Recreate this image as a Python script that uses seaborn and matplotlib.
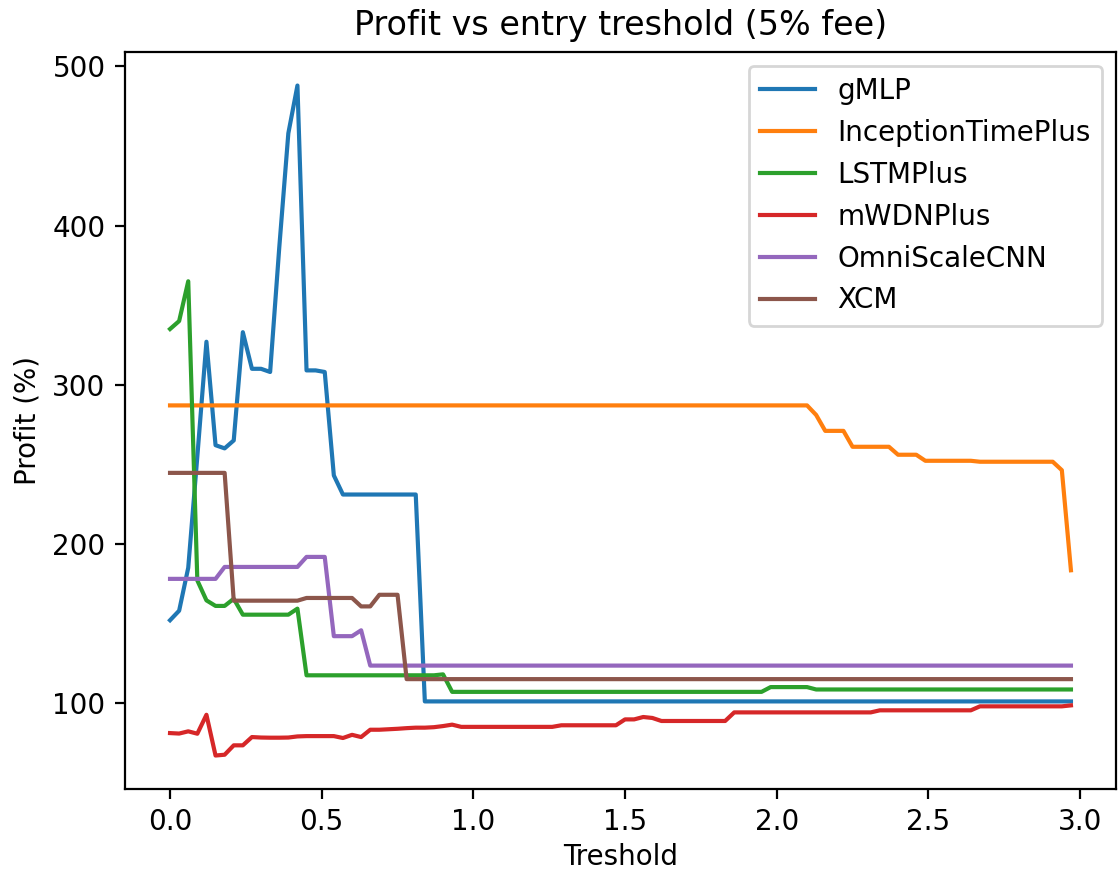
import numpy as np
import pandas as pd
import matplotlib
matplotlib.use("Agg")
import matplotlib.pyplot as plt
import seaborn as sns

# threshold grid, 0.00 .. 2.97
treshold = np.round(np.arange(100) * 0.03, 2)

gmlp = [
    152, 158, 185, 255, 327, 262, 260, 265, 333, 310,
    310, 308, 386, 458, 488, 309, 309, 308, 243, 231,
    231, 231, 231, 231, 231, 231, 231, 231, 101, 101,
    101, 101, 101, 101, 101, 101, 101, 101, 101, 101,
    101, 101, 101, 101, 101, 101, 101, 101, 101, 101,
    101, 101, 101, 101, 101, 101, 101, 101, 101, 101,
    101, 101, 101, 101, 101, 101, 101, 101, 101, 101,
    101, 101, 101, 101, 101, 101, 101, 101, 101, 101,
    101, 101, 101, 101, 101, 101, 101, 101, 101, 101,
    101, 101, 101, 101, 101, 101, 101, 101, 101, 101,
]

inception = [
    287, 287, 287, 287, 287, 287, 287, 287, 287, 287,
    287, 287, 287, 287, 287, 287, 287, 287, 287, 287,
    287, 287, 287, 287, 287, 287, 287, 287, 287, 287,
    287, 287, 287, 287, 287, 287, 287, 287, 287, 287,
    287, 287, 287, 287, 287, 287, 287, 287, 287, 287,
    287, 287, 287, 287, 287, 287, 287, 287, 287, 287,
    287, 287, 287, 287, 287, 287, 287, 287, 287, 287,
    287, 281, 271, 271, 271, 261, 261, 261, 261, 261,
    256, 256, 256, 252.2, 252.2, 252.2, 252.2, 252.2, 252.2, 251.6,
    251.6, 251.6, 251.6, 251.6, 251.6, 251.6, 251.6, 251.6, 246.3, 183.4,
]

lstm = [
    335, 340, 365, 177, 164.5, 161, 161, 165.5, 155.5, 155.5,
    155.5, 155.5, 155.5, 155.5, 159.3, 117.4, 117.4, 117.4, 117.4, 117.4,
    117.4, 117.4, 117.4, 117.4, 117.4, 117.4, 117.4, 117.4, 117.4, 117.4,
    118, 107, 107, 107, 107, 107, 107, 107, 107, 107,
    107, 107, 107, 107, 107, 107, 107, 107, 107, 107,
    107, 107, 107, 107, 107, 107, 107, 107, 107, 107,
    107, 107, 107, 107, 107, 107, 110, 110, 110, 110,
    110, 108.5, 108.5, 108.5, 108.5, 108.5, 108.5, 108.5, 108.5, 108.5,
    108.5, 108.5, 108.5, 108.5, 108.5, 108.5, 108.5, 108.5, 108.5, 108.5,
    108.5, 108.5, 108.5, 108.5, 108.5, 108.5, 108.5, 108.5, 108.5, 108.5,
]

mwdn = [
    81.1, 80.8, 82.2, 80.7, 92.6, 67, 67.5, 73.4, 73.4, 78.6,
    78.3, 78.2, 78.2, 78.3, 79, 79.2, 79.2, 79.2, 79.2, 78,
    80, 78.6, 83.2, 83.2, 83.5, 83.8, 84.2, 84.5, 84.5, 84.8,
    85.5, 86.4, 85, 85, 85, 85, 85, 85, 85, 85,
    85, 85, 85, 86, 86, 86, 86, 86, 86, 86,
    89.7, 89.7, 91.2, 90.6, 88.7, 88.7, 88.7, 88.7, 88.7, 88.7,
    88.7, 88.7, 94.1, 94.1, 94.1, 94.1, 94.1, 94.1, 94.1, 94.1,
    94.1, 94.1, 94.1, 94.1, 94.1, 94.1, 94.1, 94.1, 95.4, 95.4,
    95.4, 95.4, 95.4, 95.4, 95.4, 95.4, 95.4, 95.4, 95.4, 97.9,
    97.9, 97.9, 97.9, 97.9, 97.9, 97.9, 97.9, 97.9, 97.9, 98.5,
]

omniscale = [
    178, 178, 178, 178, 178, 178, 185.5, 185.5, 185.5, 185.5,
    185.5, 185.5, 185.5, 185.5, 185.5, 191.8, 191.8, 191.8, 142, 142,
    142, 145.7, 123.5, 123.5, 123.5, 123.5, 123.5, 123.5, 123.5, 123.5,
    123.5, 123.5, 123.5, 123.5, 123.5, 123.5, 123.5, 123.5, 123.5, 123.5,
    123.5, 123.5, 123.5, 123.5, 123.5, 123.5, 123.5, 123.5, 123.5, 123.5,
    123.5, 123.5, 123.5, 123.5, 123.5, 123.5, 123.5, 123.5, 123.5, 123.5,
    123.5, 123.5, 123.5, 123.5, 123.5, 123.5, 123.5, 123.5, 123.5, 123.5,
    123.5, 123.5, 123.5, 123.5, 123.5, 123.5, 123.5, 123.5, 123.5, 123.5,
    123.5, 123.5, 123.5, 123.5, 123.5, 123.5, 123.5, 123.5, 123.5, 123.5,
    123.5, 123.5, 123.5, 123.5, 123.5, 123.5, 123.5, 123.5, 123.5, 123.5,
]

xcm = [
    244.6, 244.6, 244.6, 244.6, 244.6, 244.6, 244.6, 164.3, 164.3, 164.3,
    164.3, 164.3, 164.3, 164.3, 164.3, 166, 166, 166, 166, 166,
    166, 160.7, 160.7, 168, 168, 168, 115, 115, 115, 115,
    115, 115, 115, 115, 115, 115, 115, 115, 115, 115,
    115, 115, 115, 115, 115, 115, 115, 115, 115, 115,
    115, 115, 115, 115, 115, 115, 115, 115, 115, 115,
    115, 115, 115, 115, 115, 115, 115, 115, 115, 115,
    115, 115, 115, 115, 115, 115, 115, 115, 115, 115,
    115, 115, 115, 115, 115, 115, 115, 115, 115, 115,
    115, 115, 115, 115, 115, 115, 115, 115, 115, 115,
]

models = ["gMLP", "InceptionTimePlus", "LSTMPlus", "mWDNPlus", "OmniScaleCNN", "XCM"]
profits = [gmlp, inception, lstm, mwdn, omniscale, xcm]

colors = sns.color_palette("tab10")

fig = plt.figure(figsize=(5.59, 4.365), dpi=200)
ax = fig.add_axes([0.1118, 0.0962, 0.8864, 0.8442])

for i, name in enumerate(models):
    df = pd.DataFrame({"treshold": treshold, "profit": profits[i]})
    sns.lineplot(data=df, x="treshold", y="profit", color=colors[i],
                 label=name, linewidth=1.5, ax=ax)

ax.set_title("Profit vs entry treshold (5% fee)")
ax.set_xlabel("Treshold", labelpad=2.5)
ax.set_ylabel("Profit (%)")
ax.set_yticks([100, 200, 300, 400, 500])
ax.legend(loc="upper right")

fig.savefig("out.png", dpi=200)
